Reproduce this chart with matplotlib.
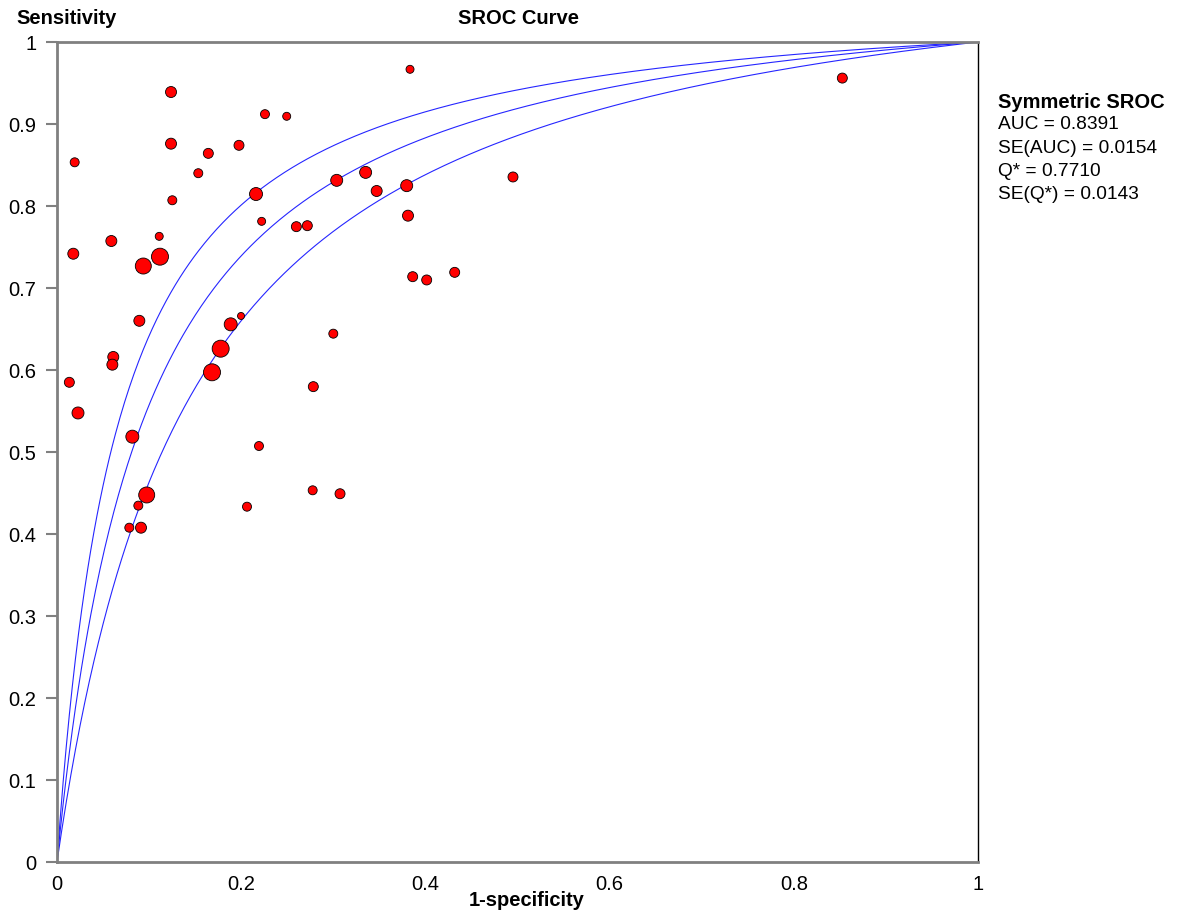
import numpy as np
import matplotlib
matplotlib.use("Agg")
from matplotlib import pyplot as plt

plt.rcParams['font.family'] = ['Liberation Sans', 'DejaVu Sans']

# study points: 1-specificity, sensitivity, marker diameter (px, ~ study weight)
fpr = [0.0192, 0.0177, 0.0590, 0.0937, 0.1118, 0.1110, 0.1238, 0.1238, 0.1252, 0.1534,
       0.1643, 0.1976, 0.2258, 0.2494, 0.2161, 0.2222, 0.2599, 0.2718, 0.3037, 0.3351,
       0.3471, 0.3833, 0.3797, 0.3811, 0.3862, 0.4014, 0.4318, 0.8527, 0.4951, 0.0134,
       0.0228, 0.0611, 0.0601, 0.0894, 0.0818, 0.0974, 0.0883, 0.0785, 0.0912, 0.1683,
       0.1777, 0.1886, 0.1998, 0.3000, 0.2783, 0.2193, 0.2063, 0.2776, 0.3073]
tpr = [0.8533, 0.7418, 0.7573, 0.7268, 0.7382, 0.7630, 0.9390, 0.8760, 0.8070, 0.8400,
       0.8642, 0.8740, 0.9120, 0.9094, 0.8146, 0.7813, 0.7748, 0.7760, 0.8313, 0.8410,
       0.8183, 0.9667, 0.8248, 0.7882, 0.7138, 0.7098, 0.7191, 0.9560, 0.8354, 0.5850,
       0.5476, 0.6159, 0.6065, 0.6600, 0.5187, 0.4476, 0.4346, 0.4077, 0.4077, 0.5972,
       0.6260, 0.6557, 0.6659, 0.6443, 0.5797, 0.5073, 0.4333, 0.4533, 0.4491]
size = [9, 11, 11, 16, 17, 8, 11, 11, 9, 9,
        10, 10, 9, 8, 13, 8, 10, 10, 12, 12,
        11, 8, 12, 11, 10, 10, 10, 10, 10, 10,
        12, 11, 11, 11, 13, 16, 9, 9, 11, 17,
        17, 13, 7, 9, 10, 9, 9, 9, 10]

# symmetric SROC: log diagnostic odds ratio, with lower / upper band
lndor = [2.05, 2.428, 2.78]

stats_title = "Symmetric SROC"
stats_lines = ["AUC = 0.8391", "SE(AUC) = 0.0154", "Q* = 0.7710", "SE(Q*) = 0.0143"]

fig = plt.figure(figsize=(11.81, 9.14), dpi=100)
ax = fig.add_axes([57/1181, 52/914, 921/1181, 820/914])

x = np.linspace(1e-6, 1, 600)
for a in lndor:
    odds = np.exp(a) * x / (1 - x + 1e-12)
    y = odds / (1 + odds)
    y[-1] = 1.0
    ax.plot(x, y, color='#0000ff', lw=0.8, alpha=0.85, zorder=2)

d_pt = np.array(size) * 0.72
ax.scatter(fpr, tpr, s=d_pt**2, c='#ff0000', edgecolors='black', linewidths=0.6, zorder=3)

ax.set_xlim(0, 1)
ax.set_ylim(0, 1)
ax.set_xticks([0, 0.2, 0.4, 0.6, 0.8, 1])
ax.set_xticklabels(['0', '0.2', '0.4', '0.6', '0.8', '1'])
ax.set_yticks(np.arange(0, 1.01, 0.1))
ax.set_yticklabels(['0', '0.1', '0.2', '0.3', '0.4', '0.5', '0.6', '0.7', '0.8', '0.9', '1'])
ax.tick_params(axis='y', length=8, color='#808080', width=1.5, labelsize=14.5, pad=7)
ax.tick_params(axis='x', length=0, labelsize=14.5, pad=9)

for side in ['left', 'top', 'bottom']:
    ax.spines[side].set_color('#808080')
    ax.spines[side].set_linewidth(2)
ax.spines['right'].set_color('black')
ax.spines['right'].set_linewidth(1)

fig.text(518/1181, 1 - 19/914, "SROC Curve", ha='center', va='center', fontsize=14.5, fontweight='bold')
fig.text(16/1181, 1 - 19/914, "Sensitivity", ha='left', va='center', fontsize=14.5, fontweight='bold')
fig.text(527/1181, 1 - 901/914, "1-specificity", ha='center', va='center', fontsize=14.5, fontweight='bold')

fig.text(998/1181, 1 - 103/914, stats_title, ha='left', va='center', fontsize=14.5, fontweight='bold')
for i, line in enumerate(stats_lines):
    fig.text(998/1181, 1 - (125 + i*23.3)/914, line, ha='left', va='center', fontsize=13.8)

fig.savefig('out.png', dpi=100)
